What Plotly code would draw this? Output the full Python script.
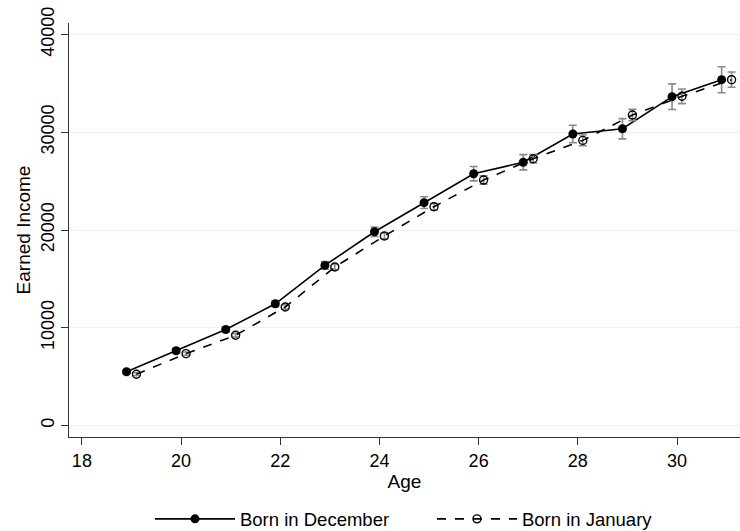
import plotly.graph_objects as go

# Earned income by age, December vs January births
ages = [19, 20, 21, 22, 23, 24, 25, 26, 27, 28, 29, 30, 31]
dec_income = [5500, 7650, 9820, 12450, 16380, 19820, 22800, 25760, 26930, 29820, 30360, 33640, 35380]
dec_ci = [200, 230, 260, 300, 380, 480, 600, 730, 780, 900, 1040, 1310, 1330]
jan_income = [5240, 7350, 9230, 12120, 16210, 19390, 22380, 25110, 27290, 29170, 31760, 33680, 35380]
jan_ci = [150, 170, 190, 220, 260, 300, 330, 425, 440, 550, 580, 750, 780]

y_ticks = [0, 10000, 20000, 30000, 40000]
y_tick_labels = ["0", "10000", "20000", "30000", "40000"]
x_ticks = [18, 20, 22, 24, 26, 28, 30]

offset = 0.1
dec_x = [a - offset for a in ages]
jan_x = [a + offset for a in ages]

font = "Liberation Sans, Arial, sans-serif"
err_color = "#8a8a8a"

fig = go.Figure()
fig.add_trace(go.Scatter(
    x=dec_x, y=dec_income, mode="lines+markers", name="Born in December",
    line=dict(color="black", width=1.6),
    marker=dict(symbol="circle", size=9, color="black"),
    error_y=dict(type="data", array=dec_ci, color=err_color, thickness=1.6, width=4),
))
fig.add_trace(go.Scatter(
    x=jan_x, y=jan_income, mode="lines+markers", name="Born in January",
    line=dict(color="black", width=1.6, dash="dash"),
    marker=dict(symbol="circle-open", size=8, color="black", line=dict(width=1.4)),
    error_y=dict(type="data", array=jan_ci, color=err_color, thickness=1.6, width=4),
))

fig.update_layout(
    width=740, height=531,
    margin=dict(l=69, r=0, t=23, b=94, autoexpand=False),
    plot_bgcolor="white", paper_bgcolor="white",
    font=dict(family=font, size=16, color="black"),
    showlegend=True,
    legend=dict(orientation="h", x=0.1207, xanchor="left",
                yref="container", y=0.022, yanchor="middle",
                itemwidth=80, entrywidth=187, font=dict(size=18.5), traceorder="normal"),
)
fig.update_xaxes(
    range=[17.74, 31.27], tickvals=x_ticks,
    showgrid=False, zeroline=False,
    showline=True, linecolor="#333333", linewidth=1,
    ticks="outside", ticklen=7, tickcolor="#333333",
    tickfont=dict(size=18),
    title=dict(text="Age", standoff=0, font=dict(size=19)),
)
fig.update_yaxes(
    range=[-1180, 41180], tickvals=y_ticks, ticktext=y_tick_labels,
    showgrid=True, gridcolor="#eaf2f3", gridwidth=1, zeroline=False,
    showline=True, linecolor="#333333", linewidth=1,
    ticks="outside", ticklen=7, tickcolor="#333333", tickangle=-90,
    tickfont=dict(size=18),
    title=dict(text="Earned Income", standoff=2, font=dict(size=19)),
)

fig.write_html("out.html")
